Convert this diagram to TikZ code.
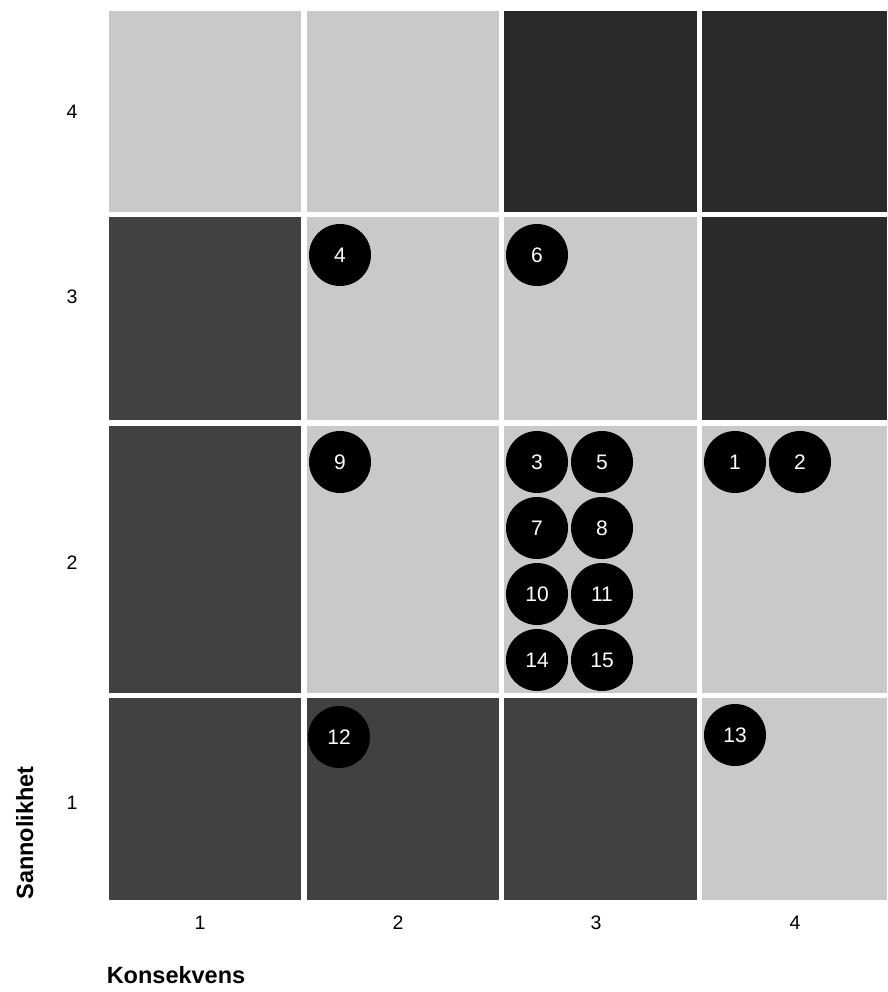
\documentclass[tikz,border=0pt]{standalone}
\usepackage{fontspec}
\setmainfont{Liberation Sans}
\definecolor{lightcell}{HTML}{C9C9C9}
\definecolor{darkcell}{HTML}{414141}
\definecolor{darkercell}{HTML}{2A2A2A}
\begin{document}
\begin{tikzpicture}[x=1pt,y=-1pt,
  riskdot/.style={circle,fill=black,minimum size=62pt,inner sep=0pt,text=white,font=\fontsize{21}{21}\selectfont},
  axisnum/.style={font=\fontsize{19.5}{19.5}\selectfont,text=black},
  axistitle/.style={font=\fontsize{23.5}{23.5}\selectfont\bfseries,text=black}]
\useasboundingbox (0,0) rectangle (887,992);
\fill[white] (0,0) rectangle (887,992);
% row 4
\fill[lightcell] (109,11) rectangle (301,212);
\fill[lightcell] (307,11) rectangle (499,212);
\fill[darkercell] (504,11) rectangle (697,212);
\fill[darkercell] (702,11) rectangle (887,212);
% row 3
\fill[darkcell] (109,217) rectangle (301,420);
\fill[lightcell] (307,217) rectangle (499,420);
\fill[lightcell] (504,217) rectangle (697,420);
\fill[darkercell] (702,217) rectangle (887,420);
% row 2
\fill[darkcell] (109,426) rectangle (301,693);
\fill[lightcell] (307,426) rectangle (499,693);
\fill[lightcell] (504,426) rectangle (697,693);
\fill[lightcell] (702,426) rectangle (887,693);
% row 1
\fill[darkcell] (109,698) rectangle (301,900);
\fill[darkcell] (307,698) rectangle (499,900);
\fill[darkcell] (504,698) rectangle (697,900);
\fill[lightcell] (702,698) rectangle (887,900);
% risk dots
\node[riskdot] (r4) at (340,255) {4};
\node[riskdot] (r6) at (537,255) {6};
\node[riskdot] (r9) at (340,462) {9};
\node[riskdot] (r3) at (537,462) {3};
\node[riskdot] (r5) at (602,462) {5};
\node[riskdot] (r7) at (537,528) {7};
\node[riskdot] (r8) at (602,528) {8};
\node[riskdot] (r10) at (537,594) {10};
\node[riskdot] (r11) at (602,594) {11};
\node[riskdot] (r14) at (537,660) {14};
\node[riskdot] (r15) at (602,660) {15};
\node[riskdot] (r1) at (735,462) {1};
\node[riskdot] (r2) at (800,462) {2};
\node[riskdot] (r12) at (339,737) {12};
\node[riskdot] (r13) at (735,735) {13};
% row labels
\node[axisnum] (y4) at (72,112) {4};
\node[axisnum] (y3) at (72,297) {3};
\node[axisnum] (y2) at (72,563) {2};
\node[axisnum] (y1) at (72,803) {1};
% column labels
\node[axisnum] (x1) at (200,923) {1};
\node[axisnum] (x2) at (398,923) {2};
\node[axisnum] (x3) at (596,923) {3};
\node[axisnum] (x4) at (795,923) {4};
% axis titles
\node[axistitle,anchor=base] (kons) at (176,983) {Konsekvens};
\node[axistitle,rotate=90,anchor=base] (sann) at (33,833) {Sannolikhet};
\end{tikzpicture}
\end{document}
